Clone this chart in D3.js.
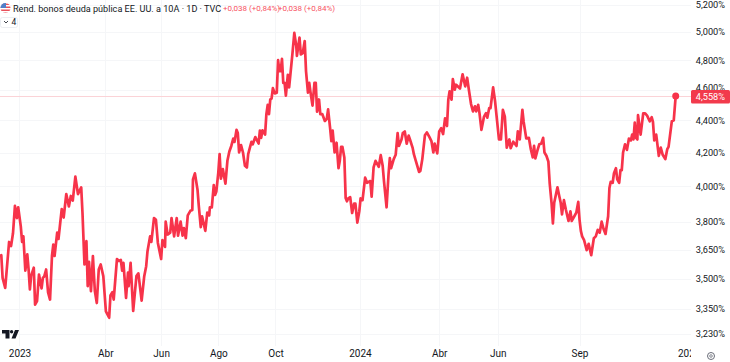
<!DOCTYPE html>
<html>
<head>
<meta charset="utf-8">
<script src="https://cdn.jsdelivr.net/npm/d3@7"></script>
<style>
    html, body { margin: 0; padding: 0; background: #fff; overflow: hidden; }
    text { font-family: Roboto, sans-serif; }
</style>
</head>
<body>
<div id="chart"></div>
<script>
/* US 10Y yield, daily line. The x unit is the session number counted from the left edge */

const bars = [
    0,1,2,4,5,7,8.5,10,11.5,13,14,16,17,18,19.5,21,22,23,24,26,27,28.5,30,32,33,34,35.5,37,38.5,40,41,42,44,45,47.5,49,51,53,54.5,56,58,60,62.5,63.5,65,66.5,67.5,68.5,70,71.5,73,74.5,76,77.5,79.5,81.5,84,85,86.5,87.5,90,91.5,93,94,95,97,98.5,99,100.5,102.5,105,106.5,109,
    111,112.5,113.5,115.5,116.5,118.5,120,121.5,124,125,127,127.5,129,131,132,134,136,137,139,140.5,141.5,143,144.5,146.5,148,148.5,150,152,153,154.5,155.5,158,159.5,161,161.5,163,164.5,165.5,166.5,168,169,170,171.5,173.5,175,176.5,178,179.5,180.5,182,183,184,185.5,187,188.5,190,191,193.5,194.5,196.5,199,
    200,201,202,204,205,206,207,208,209,210,211.5,213,214,215,216,217,218,219,220,221.5,222.5,225,226.5,228,228.5,230.5,231.5,233,234.5,235.5,237,238,239,240.5,242,243,244,245.5,246.5,248,250,251.5,252.5,254,255,256,257.5,259,260.5,261.5,262.5,263.5,265,266,267,268,269.5,271,272.5,273.5,275,276.5,277.5,279,281,282.5,285,286,287.5,289,291.5,293,294.5,295.5,297.5,299,300,301,303,304.5,306,307,
    309,310,311.5,313,314.5,315.5,317.5,318.5,320,322.5,323.5,325,327,328.5,330.5,332,333.5,334.5,336.5,338,339.5,341,342.5,344,345,346,347.5,348.5,350,351,354,356,358,359.5,361,362.5,364,365.5,366.5,368,369,370.5,372.5,374,375,376.5,377.5,379.5,381,382.5,384,385.5,387,388.5,390,392,393,395,397.5,398.5,400,402,403,405,407,408.5,410,411,412,413.5,415,
    416.5,418,419,420.5,422,423,424.5,425.5,426.5,429,430.5,431.5,432.5,434,435.5,437.5,439,440,442,443.5,445,446,447,448,449.5,451.5,453,455,457,458.5,460,461.5,463,464.5,466,468,469,470,471.5,472.5,474,475,476.5,477.5,478.5,479.5,481,482.5,484,485.5,486.5,487.5,488.5,489.5,490.5,491,493,495,496.5,498,500,501.5,502.5,503.5,505,507,508.5,510,512,513.5,514.5,517,518.5,520
];

const yields = [
    3.616,3.62,3.503,3.453,3.53,3.69,3.668,3.737,3.888,3.82,3.88,3.774,3.69,3.72,3.54,3.624,3.546,3.445,3.515,3.555,3.37,3.387,3.52,3.45,3.503,3.51,3.546,3.43,3.395,3.616,3.676,3.616,3.74,3.706,3.87,3.823,3.955,3.885,3.944,3.918,4.056,3.955,3.993,3.845,3.572,3.695,3.462,3.585,3.437,3.616,3.437,3.378,3.546,3.572,3.512,3.337,3.307,3.415,3.432,3.395,3.6,3.59,3.595,3.54,3.58,3.403,3.53,3.462,3.58,3.34,3.512,3.526,3.39,
    3.512,3.563,3.64,3.72,3.69,3.82,3.81,3.685,3.6,3.7,3.664,3.8,3.73,3.74,3.82,3.72,3.82,3.724,3.8,3.724,3.765,3.71,3.835,3.86,3.865,4.04,4.075,3.98,3.887,3.77,3.83,3.75,3.85,3.835,3.88,3.88,4.006,3.95,3.97,4.08,4.19,4.044,4.1,4.015,4.15,4.206,4.24,4.285,4.265,4.34,4.32,4.2,4.245,4.2,4.12,4.11,4.19,4.265,4.25,4.295,4.255,
    4.335,4.29,4.337,4.31,4.44,4.5,4.44,4.535,4.54,4.61,4.575,4.58,4.8,4.725,4.725,4.81,4.645,4.645,4.56,4.7,4.615,4.84,4.993,4.9,4.83,4.96,4.84,4.85,4.935,4.725,4.58,4.645,4.58,4.495,4.645,4.645,4.455,4.535,4.44,4.44,4.396,4.41,4.47,4.354,4.27,4.335,4.2,4.26,4.106,4.15,4.235,4.235,4.17,3.933,3.914,3.93,3.937,3.848,3.9,3.9,3.795,3.857,3.93,3.92,4.05,4.02,4.03,3.94,4.11,4.15,4.114,4.184,4.12,4.03,3.88,4.07,4.166,4.106,4.16,4.186,4.32,4.24,
    4.28,4.32,4.33,4.254,4.304,4.28,4.23,4.19,4.15,4.084,4.09,4.16,4.306,4.324,4.294,4.27,4.2,4.254,4.194,4.33,4.35,4.314,4.413,4.364,4.534,4.589,4.534,4.67,4.6,4.633,4.607,4.703,4.622,4.68,4.589,4.505,4.457,4.49,4.457,4.5,4.446,4.34,4.424,4.446,4.417,4.479,4.479,4.615,4.523,4.4,4.28,4.28,4.468,4.424,4.23,4.28,4.226,4.266,4.24,4.33,4.28,4.468,4.39,4.286,4.29,4.22,4.17,4.24,4.164,4.21,4.25,
    4.254,4.29,4.2,4.18,4.146,4.02,3.9,3.79,3.905,3.994,3.94,3.905,3.84,3.92,3.866,3.804,3.857,3.804,3.83,3.85,3.91,3.81,3.75,3.72,3.7,3.647,3.68,3.62,3.71,3.72,3.755,3.74,3.8,3.76,3.733,3.83,3.99,4.026,4.02,4.076,4.106,4.04,4.02,4.094,4.094,4.2,4.25,4.216,4.286,4.274,4.31,4.28,4.386,4.29,4.28,4.433,4.31,4.444,4.444,4.43,4.394,4.42,4.39,4.274,4.31,4.18,4.23,4.186,4.16,4.22,4.234,4.394,4.4,4.558
];

// 4,600% sits under the last value tag in the reference, so it stays in the list
const yTicks = [5.2, 5.0, 4.8, 4.6, 4.4, 4.2, 4.0, 3.8, 3.65, 3.5, 3.35, 3.23];
const xTickBars = [15, 81, 124, 168, 212, 277, 338, 383, 446, 530];
const xTickLabels = ["2023", "Abr", "Jun", "Ago", "Oct", "2024", "Abr", "Jun", "Sep", "2025"];

const lastValue = 4.558;
const title = "Rend. bonos deuda pública EE. UU. a 10A · 1D · TVC";
const change = "+0,038 (+0,84%)";

const width = 730,
      height = 362,
      plotRight = 691,
      plotBottom = 346;

const lineColor = "#f7334a",
      gridColor = "#f5f6f8",
      textColor = "#131722";

const fmtY = d => d.toFixed(3).replace(".", ",") + "%";

let svg = d3.select("#chart")
    .append("svg")
    .attr("width", width)
    .attr("height", height)
    .attr("viewBox", [0, 0, width, height])
    .style("display", "block");

let x = d3.scaleLinear()
    .domain([0, 521])
    .range([0, 677]);

let y = d3.scaleLog()   // the price scale is logarithmic, see the uneven tick steps
    .domain([5.0, 3.23])
    .range([32, 334]);

// grid
svg.append("g")
    .selectAll("line")
    .data(yTicks)
    .join("line")
    .attr("x1", 0)
    .attr("x2", plotRight)
    .attr("y1", d => Math.round(y(d)) + 0.5)
    .attr("y2", d => Math.round(y(d)) + 0.5)
    .attr("stroke", gridColor);

svg.append("g")
    .selectAll("line")
    .data(xTickBars.slice(0, -1))
    .join("line")
    .attr("x1", d => Math.round(x(d)) + 0.5)
    .attr("x2", d => Math.round(x(d)) + 0.5)
    .attr("y1", 0)
    .attr("y2", plotBottom)
    .attr("stroke", gridColor);

// last value line
svg.append("line")
    .attr("x1", 0)
    .attr("x2", plotRight)
    .attr("y1", Math.round(y(lastValue)) + 0.5)
    .attr("y2", Math.round(y(lastValue)) + 0.5)
    .attr("stroke", "#fbd3d7");

// x axis, clipped where the price scale starts
svg.append("clipPath")
    .attr("id", "plot-clip")
    .append("rect")
    .attr("width", plotRight)
    .attr("height", height);

const xAxis = g => g
    .attr("transform", `translate(0,${plotBottom})`)
    .attr("clip-path", "url(#plot-clip)")
    .call(d3.axisBottom(x).tickValues(xTickBars).tickSize(0).tickPadding(4)
        .tickFormat((d, i) => xTickLabels[i]))
    .call(g => g.select(".domain").remove())
    .call(g => g.selectAll("text")
        .attr("font-size", 10)
        .attr("font-family", "Roboto, sans-serif")
        .attr("fill", textColor));

svg.append("g").call(xAxis);

// y axis
const yAxis = g => g
    .attr("transform", `translate(725,0)`)
    .call(d3.axisLeft(y).tickValues(yTicks.filter(d => d !== 4.6)).tickSize(0).tickPadding(0).tickFormat(fmtY))
    .call(g => g.select(".domain").remove())
    .call(g => g.selectAll("text")
        .attr("font-size", 9.2)
        .attr("font-family", "Roboto, sans-serif")
        .attr("fill", textColor));

svg.append("g").call(yAxis);

// series
const points = bars.map((b, i) => [b, yields[i]]);

let line = d3.line()
    .x(d => x(d[0]))
    .y(d => y(d[1]));

svg.append("path")
    .datum(points)
    .attr("fill", "none")
    .attr("stroke", lineColor)
    .attr("stroke-width", 2.7)
    .attr("stroke-linejoin", "round")
    .attr("d", line);

svg.append("circle")
    .attr("cx", x(bars[bars.length - 1]))
    .attr("cy", y(lastValue))
    .attr("r", 3.5)
    .attr("fill", lineColor);

// the 4,600% label shows above the tag only as a sliver
svg.append("text")
    .attr("x", 725)
    .attr("y", y(4.6) + 1)
    .attr("text-anchor", "end")
    .attr("font-size", 9.2)
    .attr("fill", textColor)
    .text(fmtY(4.6));

// last value tag
svg.append("rect")
    .attr("x", plotRight)
    .attr("y", y(lastValue) - 6)
    .attr("width", width - plotRight)
    .attr("height", 13.5)
    .attr("rx", 1.5)
    .attr("fill", "#f23a4c");

svg.append("text")
    .attr("x", 725)
    .attr("y", y(lastValue) + 4)
    .attr("text-anchor", "end")
    .attr("font-size", 9.2)
    .attr("fill", "#fff")
    .text(fmtY(lastValue));

// legend
const flag = svg.append("g");
flag.append("clipPath").attr("id", "flag-clip")
    .append("circle").attr("cx", 5.5).attr("cy", 8).attr("r", 5);
const flagBody = flag.append("g").attr("clip-path", "url(#flag-clip)");
flagBody.append("rect").attr("width", 11).attr("height", 16).attr("fill", "#fff");
[3, 6, 9, 12].forEach(t => flagBody.append("rect")
    .attr("y", t + 0.5).attr("width", 11).attr("height", 1.5).attr("fill", "#e8505b"));
flagBody.append("rect").attr("width", 6).attr("height", 8).attr("fill", "#4f7fc9");

svg.append("text")
    .attr("x", 13)
    .attr("y", 12)
    .attr("font-size", 9.1)
    .attr("fill", textColor)
    .text(title);

svg.append("text")
    .attr("x", 223)
    .attr("y", 11)
    .attr("font-size", 8)
    .attr("fill", "#f7525f")
    .text(change);

svg.append("text")
    .attr("x", 278)
    .attr("y", 11)
    .attr("font-size", 8)
    .attr("fill", "#f7525f")
    .text(change);

svg.append("rect")
    .attr("x", 0.5)
    .attr("y", 17.5)
    .attr("width", 17)
    .attr("height", 10)
    .attr("rx", 2)
    .attr("fill", "#fff")
    .attr("stroke", "#eceef2");

svg.append("path")
    .attr("d", "M4 21 L6 23 L8 21")
    .attr("fill", "none")
    .attr("stroke", textColor)
    .attr("stroke-width", 0.8);

svg.append("text")
    .attr("x", 11.5)
    .attr("y", 25)
    .attr("font-size", 8.5)
    .attr("fill", textColor)
    .text("4");

// TradingView mark
svg.append("path")
    .attr("d", "M2 330 H9.5 V338.5 H5.5 V333.5 H2 Z M11.6 330 A1.7 1.7 0 1 1 11.6 333.4 A1.7 1.7 0 1 1 11.6 330 Z M11.5 338.5 L15 330 H19 L15.5 338.5 Z")
    .attr("fill", "#131722");

// settings icon
svg.append("circle")
    .attr("cx", 711)
    .attr("cy", 356)
    .attr("r", 3.5)
    .attr("fill", "none")
    .attr("stroke", "#6a6d78");

svg.append("circle")
    .attr("cx", 711)
    .attr("cy", 356)
    .attr("r", 1.3)
    .attr("fill", "none")
    .attr("stroke", "#6a6d78")
    .attr("stroke-width", 0.8);
</script>
</body>
</html>
